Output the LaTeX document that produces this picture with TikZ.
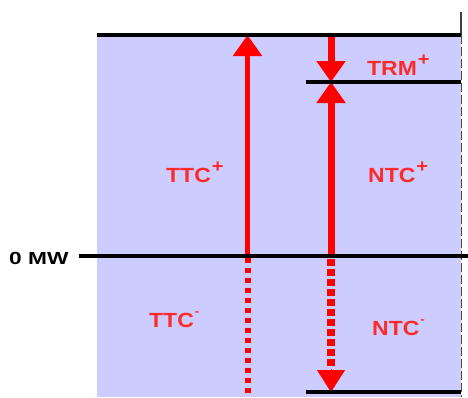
\documentclass[tikz,border=0pt]{standalone}
\usepackage{fontspec}
\setmainfont{Liberation Sans}[FakeStretch=1.12]
\newfontfamily\axisfont{Liberation Sans}[FakeStretch=1.3]
\usetikzlibrary{arrows.meta,calc}
\definecolor{bandblue}{HTML}{CCCCFF}
\definecolor{arrred}{HTML}{FF0000}
\definecolor{txtred}{HTML}{FF2A2A}
\newcommand{\plussup}{\hspace{1pt}\raisebox{0.45em}{\fontsize{18}{18}\selectfont +}}
\newcommand{\minussup}{\hspace{1pt}\raisebox{0.55em}{\fontsize{12}{12}\selectfont -}}
\tikzset{
  level/.style={line width=4pt, black},
  redarrow/.style={line width=#1, arrred, -{Triangle[length=21pt,width=28pt]}},
  redhead/.style={arrred, line width=0.1pt, -{Triangle[length=22pt,width=28pt]}},
  dotsq/.style={fill=arrred},
  lbl/.style={anchor=base west, inner sep=0pt, text=txtred, font=\bfseries\fontsize{20.5}{20.5}\selectfont},
  axislbl/.style={anchor=base west, inner sep=0pt, font=\axisfont\bfseries\fontsize{17.5}{17.5}\selectfont},
}
\begin{document}
\begin{tikzpicture}[x=1pt,y=-1pt]
\useasboundingbox (0,0) rectangle (468,397);
\fill[bandblue] (97,35) rectangle (461,397);
% coordinates
\coordinate (topL) at (97,35);
\coordinate (topR) at (461,35);
\coordinate (axtop) at (461,12);
\coordinate (axbot) at (461,397);
\coordinate (trmL) at (306,82);
\coordinate (trmR) at (461,82);
\coordinate (zeroL) at (79,256);
\coordinate (zeroR) at (468,256);
\coordinate (botL) at (306,392);
\coordinate (botR) at (461,392);
\coordinate (ttcTop) at (247.5,35);
\coordinate (ttcZero) at (247.5,256);
\coordinate (ttcBot) at (247.5,397);
\coordinate (ntcTop) at (331,35);
\coordinate (ntcTrm) at (331,82);
\coordinate (ntcZero) at (331,256);
\coordinate (ntcHead) at (331,369);
\coordinate (ntcBot) at (331,392);
% right axis
\draw[line width=1.8pt, black!75] (axtop) -- (topR);
\draw[line width=1pt, black!70, dash pattern=on 9pt off 3pt] (topR) -- (axbot);
% arrows
\draw[redarrow=5.5pt] (ttcZero) -- (ttcTop);
\draw[redarrow=7pt] (ntcTop) -- (ntcTrm);
\draw[redarrow=7pt] (ntcZero) -- (ntcTrm);
% dotted parts (square dots)
\foreach \k in {0,...,14} {
  \fill[dotsq] ($(ttcZero)+(-3,2+10*\k)$) rectangle ++(6,5);
}
\foreach \k in {0,...,10} {
  \fill[dotsq] ($(ntcZero)+(-4,3+10*\k)$) rectangle ++(8,6.5);
}
\draw[redhead] (ntcHead) -- (ntcBot);
% levels
\draw[level] (topL) -- (topR);
\draw[level] (trmL) -- (trmR);
\draw[level] (zeroL) -- (zeroR);
\draw[level] (botL) -- (botR);
% labels
\node[lbl] (ttcp) at (166,182) {TTC\plussup};
\node[lbl] (ntcp) at (368,182) {NTC\plussup};
\node[lbl] (trmp) at (367,75) {TRM\plussup};
\node[lbl] (ttcm) at (149,327) {TTC\minussup};
\node[lbl] (ntcm) at (372,335) {NTC\minussup};
\node[axislbl] (zero) at (9,264) {0 MW};
\end{tikzpicture}
\end{document}
